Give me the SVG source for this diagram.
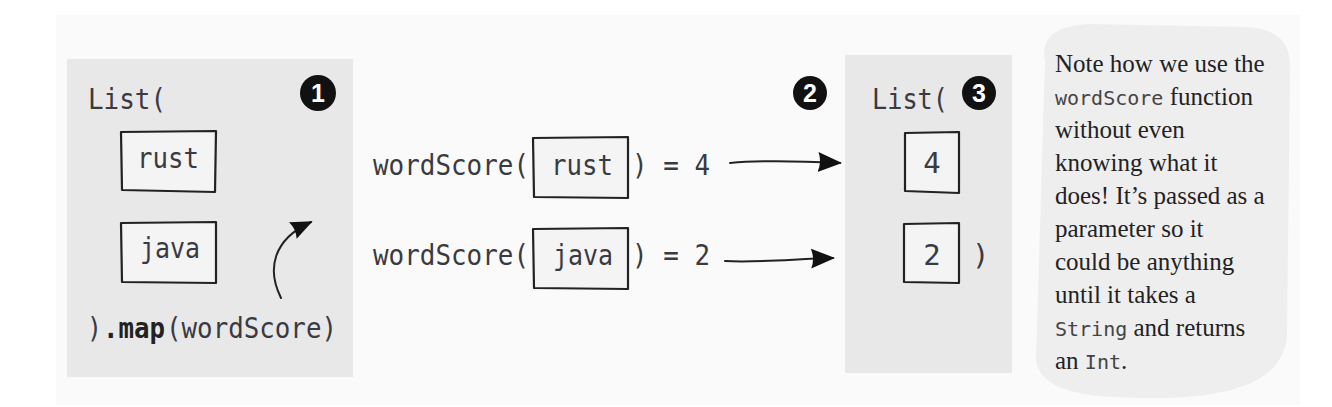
<svg xmlns="http://www.w3.org/2000/svg" width="1332" height="407" viewBox="0 0 1332 407">
<style>
.code{font-family:"DejaVu Sans Mono","Liberation Mono",monospace;font-size:29px;fill:#3a3a42}
.bold{font-weight:bold;fill:#222}
.note{font-family:"Liberation Serif","Times New Roman",serif;font-size:25px;fill:#222}
.nmono{font-family:"DejaVu Sans Mono","Liberation Mono",monospace;font-size:20px;fill:#444}
.box{fill:#f4f4f4;stroke:#222;stroke-width:2.2;stroke-linejoin:round}
.panel{fill:#e8e8e8}
.badge circle{fill:#111}
.badge text{font-family:"Liberation Sans",Arial,sans-serif;font-weight:bold;font-size:25px;fill:#fff;text-anchor:middle}
.arrow{fill:none;stroke:#222;stroke-width:2;stroke-linecap:round}
</style>
<defs>
<marker id="head" viewBox="0 0 24 22" refX="22" refY="11" markerWidth="24" markerHeight="22" markerUnits="userSpaceOnUse" orient="auto">
<path d="M0,1 L24,11 L0,21 Q4,11 0,1 Z" fill="#111"/>
</marker>
<marker id="head2" viewBox="0 0 24 22" refX="22" refY="11" markerWidth="22" markerHeight="20" markerUnits="userSpaceOnUse" orient="auto">
<path d="M0,1 L24,11 L0,21 Q4,11 0,1 Z" fill="#111"/>
</marker>
</defs>
<rect x="0" y="0" width="1332" height="407" fill="#ffffff"/>
<rect x="56" y="15" width="1244" height="390" fill="#fafafa"/>

<g id="input-list">
<rect class="panel" x="67" y="59" width="286" height="318"/>
<text class="code" x="88" y="109" textLength="78" lengthAdjust="spacingAndGlyphs">List(</text>
<g id="input-rust">
<path class="box" d="M121,132 L216,131 L215,192 L122,190 Z"/>
<text class="code" x="137" y="168" textLength="62" lengthAdjust="spacingAndGlyphs">rust</text>
</g>
<g id="input-java">
<path class="box" d="M121,223 L216,222 L216,283 L122,282 Z"/>
<text class="code" x="140" y="258" textLength="60" lengthAdjust="spacingAndGlyphs">java</text>
</g>
<text class="code" x="87" y="338" textLength="15" lengthAdjust="spacingAndGlyphs">)</text>
<text class="code bold" x="103" y="338" textLength="62" lengthAdjust="spacingAndGlyphs">.map</text>
<text class="code" x="166" y="338" textLength="171" lengthAdjust="spacingAndGlyphs">(wordScore)</text>
<g class="badge" id="badge-1"><circle cx="318" cy="93" r="18"/><text x="318" y="102">1</text></g>
</g>

<g id="call-rust">
<text class="code" x="373" y="175" textLength="156" lengthAdjust="spacingAndGlyphs">wordScore(</text>
<path class="box" d="M533,138 L628,137 L628,198 L534,197 Z"/>
<text class="code" x="551" y="175" textLength="62" lengthAdjust="spacingAndGlyphs">rust</text>
<text class="code" x="632" y="175" textLength="78" lengthAdjust="spacingAndGlyphs">) = 4</text>
</g>
<g id="call-java">
<text class="code" x="373" y="265" textLength="156" lengthAdjust="spacingAndGlyphs">wordScore(</text>
<path class="box" d="M533,229 L628,228 L628,289 L534,288 Z"/>
<text class="code" x="553" y="265" textLength="60" lengthAdjust="spacingAndGlyphs">java</text>
<text class="code" x="632" y="265" textLength="78" lengthAdjust="spacingAndGlyphs">) = 2</text>
</g>
<g class="badge" id="badge-2"><circle cx="810" cy="93" r="17"/><text x="810" y="102">2</text></g>

<g id="output-list">
<rect class="panel" x="845" y="55" width="167" height="318"/>
<text class="code" x="872" y="109" textLength="76" lengthAdjust="spacingAndGlyphs">List(</text>
<g id="output-4">
<path class="box" d="M905,133 L959,132 L959,193 L905,191 Z"/>
<text class="code" x="932" y="173" text-anchor="middle">4</text>
</g>
<g id="output-2">
<path class="box" d="M904,224 L959,223 L959,283 L904,282 Z"/>
<text class="code" x="932" y="265" text-anchor="middle">2</text>
</g>
<text class="code" x="972" y="265">)</text>
<g class="badge" id="badge-3"><circle cx="979" cy="93" r="17"/><text x="979" y="102">3</text></g>
</g>

<g id="note">
<path d="M1045,62 C1040,36 1058,25 1090,24 L1245,27 C1278,29 1292,42 1290,72 L1287,335 C1284,382 1232,398 1150,398 C1080,398 1040,390 1036,360 Z" fill="#efeeef"/>
<text class="note" x="1055" y="72">Note how we use the</text>
<text class="note" x="1055" y="105"><tspan class="nmono">wordScore</tspan> function</text>
<text class="note" x="1055" y="138">without even</text>
<text class="note" x="1055" y="171">knowing what it</text>
<text class="note" x="1055" y="204">does! It’s passed as a</text>
<text class="note" x="1055" y="237">parameter so it</text>
<text class="note" x="1055" y="270">could be anything</text>
<text class="note" x="1055" y="303">until it takes a</text>
<text class="note" x="1055" y="336"><tspan class="nmono">String</tspan> and returns</text>
<text class="note" x="1055" y="369">an <tspan class="nmono">Int</tspan>.</text>
</g>

<g id="connectors">
<path class="arrow" d="M281,298 C267,270 272,240 311,222" marker-end="url(#head2)"/>
<path class="arrow" d="M730,163 C760,160 800,161 840,163" marker-end="url(#head)"/>
<path class="arrow" d="M725,261 C755,263 795,259 833,258" marker-end="url(#head)"/>
</g>
</svg>
